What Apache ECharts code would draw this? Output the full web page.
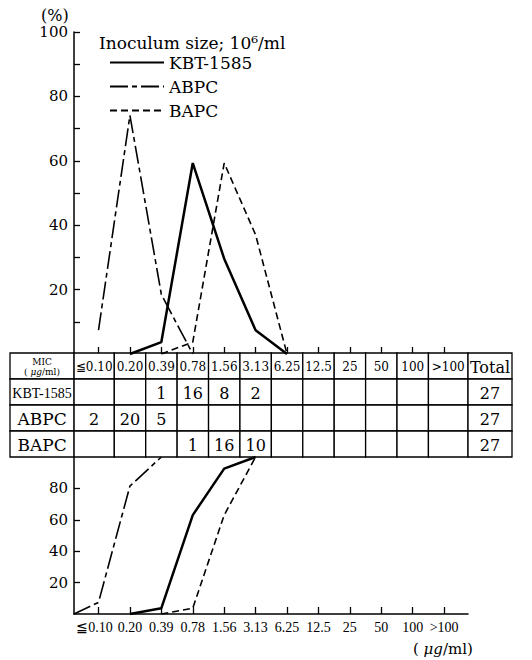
<!DOCTYPE html>
<html>
<head>
<meta charset="utf-8">
<script src="https://cdn.jsdelivr.net/npm/echarts@6/dist/echarts.min.js"></script>
<style>
html, body { margin: 0; padding: 0; background: #fff; }
#chart { width: 532px; height: 660px; }
</style>
</head>
<body>
<div id="chart"></div>
<script>
// MIC classes (µg/ml)
const categories = ['≦0.10', '0.20', '0.39', '0.78', '1.56', '3.13', '6.25', '12.5', '25', '50', '100', '>100']
const drugs = ['KBT-1585', 'ABPC', 'BAPC']

// number of strains per MIC (table)
const kbtCounts = [null, null, 1, 16, 8, 2, null, null, null, null, null, null]
const abpcCounts = [2, 20, 5, null, null, null, null, null, null, null, null, null]
const bapcCounts = [null, null, null, 1, 16, 10, null, null, null, null, null, null]
const totals = [27, 27, 27]

// distribution (%), upper plot: [MIC class index, %]
const kbtPct = [[1, 0], [2, 3.7], [3, 59.3], [4, 29.6], [5, 7.4], [6, 0]]
const abpcPct = [[0, 7.4], [1, 74.1], [2, 18.5], [3, 0]]
const bapcPct = [[2, 0], [3, 3.7], [4, 59.3], [5, 37.0], [6, 0]]

// cumulative (%), lower plot
const kbtCum = [[1, 0], [2, 3.7], [3, 63.0], [4, 92.6], [5, 100]]
const abpcCum = [[-0.78, 0], [0, 7.4], [1, 81.5], [2, 100]]
const bapcCum = [[2, 0], [3, 3.7], [4, 63.0], [5, 100]]

// tick labels
const topTicks = [10, 20, 30, 40, 50, 60, 70, 80, 90, 100]
const topLabels = [20, 40, 60, 80, 100]
const bottomLabels = [20, 40, 60, 80]

// axis extents (first and last MIC columns are wider in the original)
const X_MIN = -0.78
const X_MAX = 11.76
const TBL_MIN = -2.82
const TBL_MAX = 13.16

const serif = "'DejaVu Serif', 'Liberation Serif', serif"
const idx = categories.map((c, i) => i)

const lineStyles = {
  'KBT-1585': { color: '#000', width: 2.5, type: 'solid' },
  'ABPC': { color: '#000', width: 1.6, type: [18, 4, 5, 4] },
  'BAPC': { color: '#000', width: 1.6, type: [7, 4] }
}

// table cells
const cells = []
function addCell (x0, x1, row, text, kind) {
  cells.push({ x0: x0, x1: x1, row: row, text: text, kind: kind })
}
function colEdges (i) {
  return [i === 0 ? X_MIN : i - 0.5, i === categories.length - 1 ? X_MAX : i + 0.5]
}
addCell(TBL_MIN, X_MIN, 0, '{a|MIC}\n{b|( }{i|μg}{b|/ml)}', 'mic')
categories.forEach((c, i) => {
  const e = colEdges(i)
  addCell(e[0], e[1], 0, c, 'head')
})
addCell(X_MAX, TBL_MAX, 0, 'Total', 'total');
[kbtCounts, abpcCounts, bapcCounts].forEach((counts, r) => {
  addCell(TBL_MIN, X_MIN, r + 1, drugs[r], r === 0 ? 'nameSmall' : 'name')
  counts.forEach((n, i) => {
    const e = colEdges(i)
    addCell(e[0], e[1], r + 1, n == null ? '' : String(n), 'num')
  })
  addCell(X_MAX, TBL_MAX, r + 1, String(totals[r]), 'num')
})

const cellFonts = {
  mic: { fontSize: 9, fontFamily: serif },
  head: { fontSize: 12, fontFamily: serif },
  total: { fontSize: 16, fontFamily: serif },
  nameSmall: { fontSize: 14, fontFamily: "'Liberation Serif', serif" },
  name: { fontSize: 17, fontFamily: serif },
  num: { fontSize: 16, fontFamily: serif }
}

function lineSeries (name, data, axis) {
  return {
    name: name,
    type: 'line',
    xAxisIndex: axis,
    yAxisIndex: axis,
    symbol: 'none',
    itemStyle: { color: '#000' },
    lineStyle: lineStyles[name],
    data: data
  }
}

const chart = echarts.init(document.getElementById('chart'), null, { renderer: 'svg' })

const option = {
  animation: false,
  backgroundColor: '#fff',
  title: [
    {
      text: '(%)',
      left: 36,
      top: 2,
      textStyle: { fontFamily: serif, fontSize: 16, fontWeight: 'normal', color: '#000' }
    },
    {
      text: 'Inoculum size; 10⁶/ml',
      left: 94,
      top: 29,
      textStyle: { fontFamily: serif, fontSize: 17, fontWeight: 'normal', color: '#000' }
    },
    {
      text: '( {i|μg}/ml)',
      left: 408,
      top: 636,
      textStyle: {
        fontFamily: serif,
        fontSize: 15,
        fontWeight: 'normal',
        color: '#000',
        rich: { i: { fontFamily: serif, fontSize: 15, fontStyle: 'italic', color: '#000' } }
      }
    }
  ],
  legend: {
    data: drugs,
    orient: 'vertical',
    left: 104,
    top: 49,
    itemWidth: 54,
    itemHeight: 16,
    itemGap: 7,
    selectedMode: false,
    itemStyle: { color: 'rgba(0,0,0,0)', borderWidth: 0 },
    textStyle: { fontFamily: serif, fontSize: 17, color: '#000' }
  },
  grid: [
    { left: 74, top: 32, width: 394, height: 322 },
    { left: 74, top: 457, width: 394, height: 157 },
    { left: 10, top: 353, width: 502, height: 104 }
  ],
  xAxis: [
    {
      gridIndex: 0,
      type: 'value',
      min: X_MIN,
      max: X_MAX,
      axisLine: { show: true, onZero: false, lineStyle: { color: '#000', width: 1.3 } },
      axisTick: { show: true, inside: true, length: 7, customValues: idx, lineStyle: { color: '#000', width: 1.3 } },
      axisLabel: { show: false },
      splitLine: { show: false }
    },
    {
      gridIndex: 1,
      type: 'value',
      min: X_MIN,
      max: X_MAX,
      axisLine: { show: true, onZero: false, lineStyle: { color: '#000', width: 1.5 } },
      axisTick: { show: true, inside: true, length: 7, customValues: idx, lineStyle: { color: '#000', width: 1.3 } },
      axisLabel: {
        customValues: idx,
        formatter: v => {
          const i = Math.round(v)
          return i === 0 ? '{first|' + categories[i] + '}' : categories[i]
        },
        hideOverlap: false,
        showMinLabel: true,
        margin: 6,
        color: '#000',
        fontFamily: "'Liberation Serif', serif",
        fontSize: 14,
        rich: {
          first: { fontFamily: "'Liberation Serif', serif", fontSize: 14, color: '#000', padding: [0, 8, 0, 0] }
        }
      },
      splitLine: { show: false }
    },
    { gridIndex: 2, type: 'value', min: TBL_MIN, max: TBL_MAX, show: false }
  ],
  yAxis: [
    {
      gridIndex: 0,
      type: 'value',
      min: 0,
      max: 100,
      axisLine: { show: true, onZero: false, lineStyle: { color: '#000', width: 1.5 } },
      axisTick: { show: true, inside: true, length: 6, customValues: topTicks, lineStyle: { color: '#000', width: 1.3 } },
      axisLabel: { customValues: topLabels, margin: 6, color: '#000', fontFamily: serif, fontSize: 15 },
      splitLine: { show: false }
    },
    {
      gridIndex: 1,
      type: 'value',
      min: 0,
      max: 100,
      axisLine: { show: true, onZero: false, lineStyle: { color: '#000', width: 1.5 } },
      axisTick: { show: true, inside: true, length: 6, customValues: bottomLabels, lineStyle: { color: '#000', width: 1.3 } },
      axisLabel: { customValues: bottomLabels, margin: 6, color: '#000', fontFamily: serif, fontSize: 15 },
      splitLine: { show: false }
    },
    { gridIndex: 2, type: 'value', min: 0, max: 4, inverse: true, show: false }
  ],
  series: [
    lineSeries('KBT-1585', kbtPct, 0),
    lineSeries('ABPC', abpcPct, 0),
    lineSeries('BAPC', bapcPct, 0),
    lineSeries('KBT-1585', kbtCum, 1),
    lineSeries('ABPC', abpcCum, 1),
    lineSeries('BAPC', bapcCum, 1),
    {
      type: 'custom',
      xAxisIndex: 2,
      yAxisIndex: 2,
      silent: true,
      z: 1,
      data: cells.map(c => [(c.x0 + c.x1) / 2, c.row + 0.5]),
      renderItem: function (params, api) {
        const c = cells[params.dataIndex]
        const p0 = api.coord([c.x0, c.row])
        const p1 = api.coord([c.x1, c.row + 1])
        const f = cellFonts[c.kind]
        return {
          type: 'group',
          children: [
            {
              type: 'rect',
              shape: { x: p0[0], y: p0[1], width: p1[0] - p0[0], height: p1[1] - p0[1] },
              style: { fill: '#fff', stroke: '#000', lineWidth: 1.3 }
            },
            {
              type: 'text',
              style: {
                x: (p0[0] + p1[0]) / 2,
                y: (p0[1] + p1[1]) / 2 + 1,
                text: c.text,
                align: 'center',
                verticalAlign: 'middle',
                fontSize: f.fontSize,
                fontFamily: f.fontFamily,
                fill: '#000',
                rich: {
                  a: { fontSize: 9, fontFamily: serif, lineHeight: 10, fill: '#000' },
                  b: { fontSize: 9, fontFamily: serif, lineHeight: 10, fill: '#000' },
                  i: { fontSize: 9, fontFamily: serif, fontStyle: 'italic', lineHeight: 10, fill: '#000' }
                }
              }
            }
          ]
        }
      }
    }
  ]
}

chart.setOption(option)
</script>
</body>
</html>
